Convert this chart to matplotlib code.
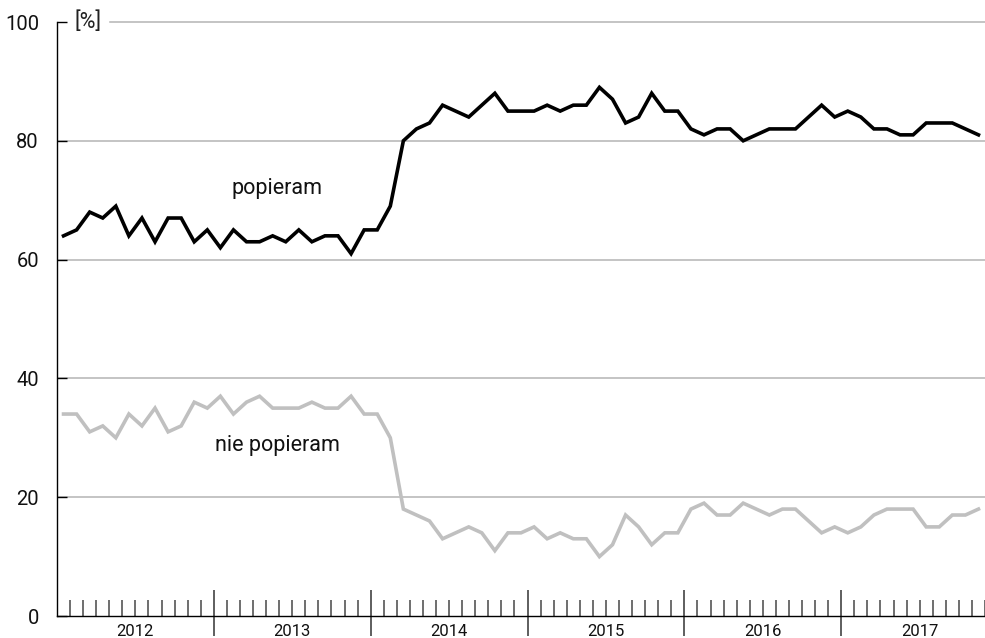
import matplotlib
matplotlib.use("Agg")
import matplotlib.pyplot as plt
import matplotlib.transforms as mtransforms
import numpy as np

plt.rcParams['font.family'] = ['Roboto', 'DejaVu Sans']

years = ['2012', '2013', '2014', '2015', '2016', '2017']

popieram = [
    64, 65, 68, 67, 69, 64, 67, 63, 67, 67, 63, 65,   # 2012
    62, 65, 63, 63, 64, 63, 65, 63, 64, 64, 61, 65,   # 2013
    65, 69, 80, 82, 83, 86, 85, 84, 86, 88, 85, 85,   # 2014
    85, 86, 85, 86, 86, 89, 87, 83, 84, 88, 85, 85,   # 2015
    82, 81, 82, 82, 80, 81, 82, 82, 82, 84, 86, 84,   # 2016
    85, 84, 82, 82, 81, 81, 83, 83, 83, 82, 81,       # 2017
]

nie_popieram = [
    34, 34, 31, 32, 30, 34, 32, 35, 31, 32, 36, 35,   # 2012
    37, 34, 36, 37, 35, 35, 35, 36, 35, 35, 37, 34,   # 2013
    34, 30, 18, 17, 16, 13, 14, 15, 14, 11, 14, 14,   # 2014
    15, 13, 14, 13, 13, 10, 12, 17, 15, 12, 14, 14,   # 2015
    18, 19, 17, 17, 19, 18, 17, 18, 18, 16, 14, 15,   # 2016
    14, 15, 17, 18, 18, 18, 15, 15, 17, 17, 18,       # 2017
]

y_ticks = [0, 20, 40, 60, 80, 100]

W, H = 985, 638
fig = plt.figure(figsize=(W / 100, H / 100), dpi=100)
ax_left, ax_right, ax_top, ax_bottom = 57, 985, 22, 616
ax = fig.add_axes([ax_left / W, 1 - ax_bottom / H, (ax_right - ax_left) / W, (ax_bottom - ax_top) / H])

n = len(popieram)
x = np.arange(n)
ax.set_xlim(-0.5, n - 0.5)
ax.set_ylim(0, 100)

grid_color = '#b4b4b4'
for v in y_ticks[1:-1]:
    ax.axhline(v, color=grid_color, lw=1.1, zorder=1)
ax.axhline(100, xmin=0.057, color=grid_color, lw=1.1, zorder=1, clip_on=False)

ax.plot(x, nie_popieram, color='#c0c0c0', lw=2.6, zorder=3, solid_joinstyle='miter')
ax.plot(x, popieram, color='black', lw=2.6, zorder=4, solid_joinstyle='miter')

# spines
for s in ['top', 'right']:
    ax.spines[s].set_visible(False)
ax.spines['left'].set_linewidth(1.0)
ax.spines['bottom'].set_linewidth(1.0)

# y ticks
ax.set_yticks(y_ticks)
ax.set_yticklabels([str(v) for v in y_ticks], fontsize=14.5, color='#111111')
ax.tick_params(axis='y', direction='in', length=7, width=1, pad=13)

# x ticks: monthly minor ticks
month_edges = [k - 0.5 for k in range(1, n + 1) if k % 12 != 0]
ax.set_xticks([])
ax.set_xticks(month_edges, minor=True)
ax.tick_params(axis='x', which='minor', direction='in', length=11.5, width=1.2, color='#555555')

trans = mtransforms.blended_transform_factory(ax.transData, ax.transAxes)
axh = ax_bottom - ax_top
year_edges = [12 * k - 0.5 for k in range(1, len(years))]
ax.vlines(year_edges, -20 / axh, 26 / axh, transform=trans, colors='#333333', lw=1.1, clip_on=False)

for k, yr in enumerate(years):
    cx = (12 * k - 0.5 + 12 * (k + 1) - 0.5) / 2
    ax.text(cx, -16 / axh, yr, transform=trans, ha='center', va='center', fontsize=12, color='#111111')

ax.text(17 / (ax_right - ax_left), 1.0, '[%]', transform=ax.transAxes, ha='left', va='center',
        fontsize=15.5, color='#222222')

ax.text(16.3, 72.0, 'popieram', ha='center', va='center', fontsize=15.5, color='#111111')
ax.text(16.4, 28.7, 'nie popieram', ha='center', va='center', fontsize=15.5, color='#111111')

fig.savefig('out.png', dpi=100)
